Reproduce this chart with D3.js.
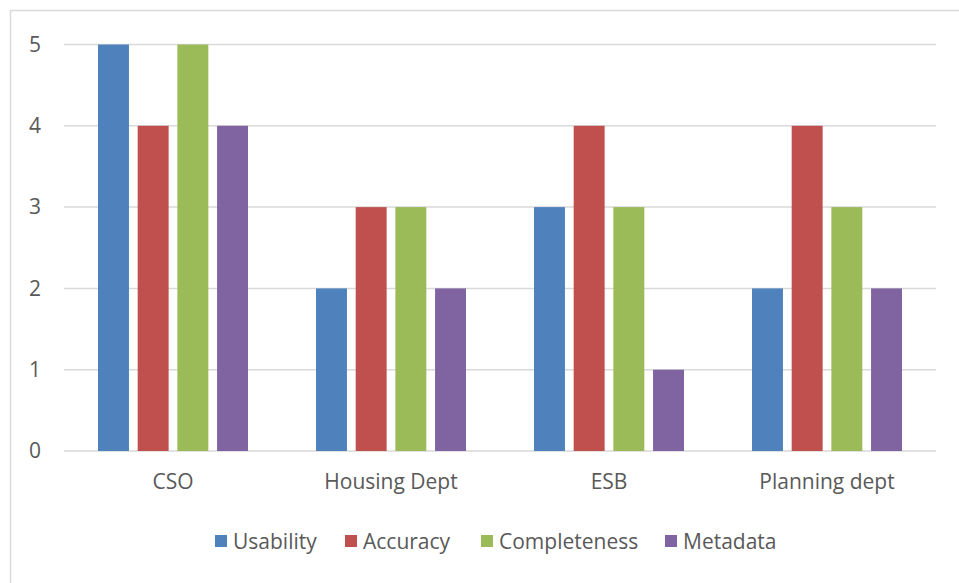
<!DOCTYPE html>
<html>
<head>
<meta charset="utf-8">
<script src="https://cdn.jsdelivr.net/npm/d3@7"></script>
<style>
  html, body { margin: 0; padding: 0; background: #fff; }
  text { font-family: "Open Sans", "Noto Sans", sans-serif; fill: #595959; }
</style>
</head>
<body>
<svg id="chart" width="959" height="583"></svg>
<script>
const categories = ["CSO", "Housing Dept", "ESB", "Planning dept"];
const seriesNames = ["Usability", "Accuracy", "Completeness", "Metadata"];
const usability = [5, 2, 3, 2];
const accuracy = [4, 3, 4, 4];
const completeness = [5, 3, 3, 3];
const metadata = [4, 2, 1, 2];
const yTicks = [0, 1, 2, 3, 4, 5];
const colors = ["#4F81BD", "#C0504D", "#9BBB59", "#8064A2"];

const seriesValues = [usability, accuracy, completeness, metadata];
const table = categories.map((c, i) => ({
  category: c,
  values: seriesNames.map((s, j) => ({ key: s, value: seriesValues[j][i], color: colors[j] }))
}));

const svg = d3.select("#chart");
const FS = "21px";

// outer chart border
svg.append("rect")
  .attr("x", 10.5).attr("y", 10.5)
  .attr("width", 960).attr("height", 600)
  .attr("fill", "none").attr("stroke", "#D9D9D9").attr("stroke-width", 1.5);

const plot = { left: 64, right: 936, top: 44.5, bottom: 451 };

const x0 = d3.scaleBand().domain(categories).range([plot.left, plot.right]).paddingInner(0).paddingOuter(0);
const x1 = d3.scaleBand().domain(seriesNames).range([0, x0.bandwidth()]).paddingInner(0.22).paddingOuter(0.857);
const y = d3.scaleLinear().domain([0, 5]).range([plot.bottom, plot.top]);

// gridlines
svg.append("g").selectAll("line").data(yTicks).join("line")
  .attr("x1", plot.left).attr("x2", plot.right)
  .attr("y1", d => y(d)).attr("y2", d => y(d))
  .attr("stroke", "#D9D9D9").attr("stroke-width", 1.5);

// y axis labels
const yAxis = d3.axisLeft(y).tickValues(yTicks).tickSize(0).tickPadding(0).tickFormat(d3.format("d"));
const gy = svg.append("g").attr("transform", "translate(41,0)").call(yAxis);
gy.select(".domain").remove();
gy.selectAll("text").style("font-size", FS).attr("fill", "#595959")
  .style("font-family", '"Open Sans", sans-serif');

// bars
const groups = svg.append("g").selectAll("g").data(table).join("g")
  .attr("transform", d => `translate(${x0(d.category)},0)`);
groups.selectAll("rect").data(d => d.values).join("rect")
  .attr("x", d => x1(d.key))
  .attr("width", x1.bandwidth())
  .attr("y", d => y(d.value))
  .attr("height", d => y(0) - y(d.value))
  .attr("fill", d => d.color);

// x axis labels
const xAxis = d3.axisBottom(x0).tickSize(0).tickPadding(0);
const gx = svg.append("g").attr("transform", `translate(0,${plot.bottom + 23})`).call(xAxis);
gx.select(".domain").remove();
gx.selectAll("text").style("font-size", FS).attr("fill", "#595959")
  .style("font-family", '"Open Sans", sans-serif');

// legend
const legendX = [215, 345, 481, 665];
const legend = svg.append("g").selectAll("g").data(seriesNames).join("g")
  .attr("transform", (d, i) => `translate(${legendX[i]},541)`);
legend.append("rect").attr("x", 0).attr("y", -6).attr("width", 12).attr("height", 12)
  .attr("fill", (d, i) => colors[i]);
legend.append("text").attr("x", 18).attr("y", 1).attr("dy", "0.35em")
  .style("font-size", FS).text(d => d);
</script>
</body>
</html>
